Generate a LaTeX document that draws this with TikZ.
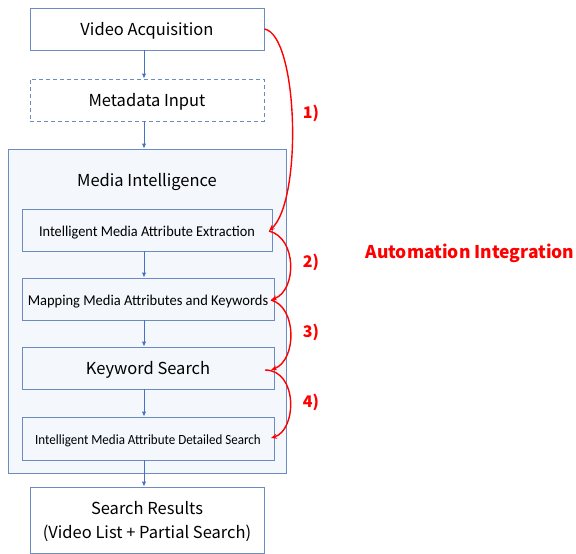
\documentclass[tikz,border=0pt]{standalone}
\usepackage{fontspec}
\setmainfont{Noto Sans CJK KR}
\newfontfamily\calfont{Carlito}
\usetikzlibrary{arrows.meta}
\definecolor{bord}{HTML}{6A8CC2}
\definecolor{arr}{HTML}{4472C4}
\definecolor{mifill}{HTML}{F4F7FC}
\definecolor{rd}{HTML}{FF0000}
\tikzset{
  box/.style={draw=bord, line width=0.9pt, fill=white, minimum width=234pt, minimum height=42pt, inner sep=0pt, align=center, text height=12pt, text depth=0pt, font=\fontsize{16.5pt}{24pt}\selectfont},
  ibox/.style={draw=bord, line width=0.9pt, fill=mifill, minimum height=42pt, inner sep=0pt, align=center, text height=12pt, text depth=0pt},
  flow/.style={draw=arr, line width=1pt, -{Latex[length=5pt,width=4.5pt]}},
  auto/.style={draw=rd, line width=1.4pt, -{Stealth[length=6pt,width=5pt]}},
  lab/.style={text=rd, font=\bfseries\fontsize{16pt}{18pt}\selectfont}
}
\begin{document}
\begin{tikzpicture}[x=1pt,y=-1pt]
\useasboundingbox (0,0) rectangle (576,554);
\node[box] (va) at (147,29) {Video Acquisition};
\node[box, dashed, dash pattern=on 4pt off 3pt] (md) at (147,100) {Metadata Input};
\node[draw=bord, line width=0.9pt, fill=mifill, minimum width=278pt, minimum height=324pt, inner sep=0pt] (mi) at (147,311) {};
\node[font=\fontsize{16.5pt}{18pt}\selectfont, text height=12pt, text depth=0pt] (mit) at (147,180) {Media Intelligence};
\node[ibox, minimum width=250pt, font=\calfont\fontsize{15pt}{17pt}\selectfont] (b1) at (147,230) {\scalebox{0.953}[1]{Intelligent Media Attribute Extraction}};
\node[ibox, minimum width=252pt, font=\calfont\fontsize{15pt}{17pt}\selectfont] (b2) at (148,299) {\scalebox{0.966}[1]{Mapping Media Attributes and Keywords}};
\node[ibox, minimum width=252pt, font=\fontsize{16.5pt}{18pt}\selectfont] (b3) at (148,368) {Keyword Search};
\node[ibox, minimum width=252pt, minimum height=43pt, font=\calfont\fontsize{14pt}{16pt}\selectfont] (b4) at (148,438.5) {\scalebox{0.93}[1]{Intelligent Media Attribute Detailed Search}};
\node[box, minimum height=66pt, text height=36pt, text depth=0pt] (sr) at (147,520) {Search Results\\(Video List + Partial Search)};
\draw[flow] ([xshift=-3pt]va.south) -- ([xshift=-3pt]md.north);
\draw[flow] ([xshift=-3pt]md.south) -- ([xshift=-3pt]mi.north);
\draw[flow] ([xshift=-3pt]b1.south) -- ([xshift=-4pt]b2.north);
\draw[flow] ([xshift=-4pt]b2.south) -- ([xshift=-4pt]b3.north);
\draw[flow] ([xshift=-4pt]b3.south) -- ([xshift=-4pt]b4.north);
\draw[flow] ([xshift=-4pt]b4.south) -- ([xshift=-3pt]sr.north);
\coordinate (p1) at (269,231);
\coordinate (p2) at (271,300);
\coordinate (p3) at (271,370);
\coordinate (p3s) at (265,370);
\coordinate (p4) at (271,438);
\draw[auto] (va.east) .. controls (298,35) and (303,200) .. (p1);
\draw[auto] (p1) .. controls (297,238) and (297,290) .. (p2);
\draw[auto] (p2) .. controls (297,307) and (297,360) .. (p3);
\draw[auto] (p3s) .. controls (298,370) and (297,430) .. (p4);
\node[lab] (l1) at (311,113) {1)};
\node[lab] (l2) at (311,262) {2)};
\node[lab] (l3) at (311,332) {3)};
\node[lab] (l4) at (311,402) {4)};
\node[lab, font=\bfseries\fontsize{17.5pt}{20pt}\selectfont] (ai) at (470,253) {Automation Integration};
\end{tikzpicture}
\end{document}
